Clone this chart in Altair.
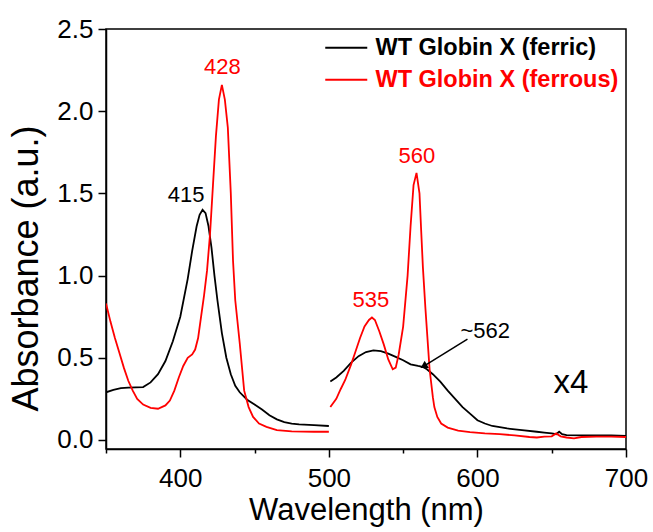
import altair as alt
import pandas as pd

FERRIC = "WT Globin X (ferric)"
FERROUS = "WT Globin X (ferrous)"

# Ferric (black), Soret region 350-500 nm
ferric_soret_nm = [350, 355, 360, 365, 370, 375, 380, 385, 390, 395, 400, 405, 408, 411, 413, 415, 417, 419, 421, 423, 425, 428, 431, 434, 437, 440, 445, 450, 455, 460, 465, 470, 475, 480, 490, 500]
ferric_soret_abs = [0.29, 0.305, 0.315, 0.318, 0.32, 0.322, 0.35, 0.40, 0.48, 0.60, 0.75, 0.98, 1.15, 1.30, 1.37, 1.40, 1.38, 1.30, 1.17, 1.00, 0.85, 0.65, 0.50, 0.40, 0.33, 0.29, 0.245, 0.215, 0.185, 0.15, 0.125, 0.108, 0.10, 0.095, 0.09, 0.085]

# Ferric (black), Q-band region 500-700 nm (x4)
ferric_q_nm = [501, 505, 510, 515, 520, 525, 530, 535, 540, 545, 550, 555, 560, 563, 566, 570, 575, 580, 585, 590, 595, 600, 605, 610, 620, 630, 640, 645, 650, 653, 655, 657, 660, 670, 680, 690, 700]
ferric_q_abs = [0.355, 0.38, 0.42, 0.47, 0.51, 0.535, 0.545, 0.54, 0.525, 0.505, 0.485, 0.46, 0.45, 0.445, 0.43, 0.40, 0.355, 0.30, 0.25, 0.20, 0.16, 0.12, 0.10, 0.085, 0.07, 0.06, 0.05, 0.045, 0.04, 0.035, 0.05, 0.035, 0.03, 0.028, 0.027, 0.028, 0.025]

# Ferrous (red), Soret region
ferrous_soret_nm = [350, 353, 356, 359, 362, 365, 368, 371, 375, 380, 385, 390, 393, 396, 399, 402, 405, 408, 410, 412, 414, 416, 418, 420, 422, 424, 426, 428, 430, 432, 434, 435.5, 437, 440, 443, 446, 449, 453, 458, 465, 475, 490, 500]
ferrous_soret_abs = [0.83, 0.72, 0.62, 0.53, 0.44, 0.36, 0.30, 0.25, 0.215, 0.195, 0.19, 0.21, 0.24, 0.30, 0.38, 0.45, 0.50, 0.52, 0.55, 0.62, 0.75, 0.88, 1.03, 1.25, 1.55, 1.85, 2.07, 2.16, 2.07, 1.90, 1.50, 1.09, 0.85, 0.59, 0.30, 0.20, 0.14, 0.10, 0.08, 0.06, 0.052, 0.05, 0.05]

# Ferrous (red), Q-band region
ferrous_q_nm = [501, 505, 508, 511, 515, 518, 521, 524, 527, 529, 531, 534, 537, 540, 543, 545, 547, 550, 553, 555, 557, 559, 561, 562, 563.3, 565, 567.8, 570, 571, 573, 575.6, 580, 587, 595, 605, 615, 625, 635, 640, 645, 650, 653, 656, 660, 665, 670, 680, 690, 700]
ferrous_q_abs = [0.20, 0.25, 0.31, 0.365, 0.46, 0.54, 0.62, 0.69, 0.73, 0.745, 0.73, 0.66, 0.58, 0.49, 0.43, 0.44, 0.52, 0.69, 1.00, 1.30, 1.55, 1.625, 1.50, 1.30, 1.05, 0.80, 0.43, 0.26, 0.20, 0.14, 0.10, 0.075, 0.057, 0.048, 0.04, 0.035, 0.028, 0.018, 0.015, 0.02, 0.022, 0.04, 0.022, 0.015, 0.01, 0.018, 0.02, 0.02, 0.018]

# Peak annotations
ann_text = ["415", "428", "535", "560", "~562", "x4"]
ann_nm = [404, 428.3, 528.3, 559.3, 605.3, 663]
ann_abs = [1.49, 2.27, 0.85, 1.727, 0.663, 0.347]
ann_color = ["#000000", "#ff0000", "#ff0000", "#ff0000", "#000000", "#000000"]
ann_size = [22, 22, 22, 22, 22, 33]

# Arrow for ~562 shoulder
arrow_nm = [593.3]
arrow_abs = [0.614]
arrow_nm2 = [564.5]
arrow_abs2 = [0.452]

rows = []
for nm, a in zip(ferric_soret_nm, ferric_soret_abs):
    rows.append({"nm": nm, "abs": a, "series": FERRIC, "seg": "ferric_soret"})
for nm, a in zip(ferric_q_nm, ferric_q_abs):
    rows.append({"nm": nm, "abs": a, "series": FERRIC, "seg": "ferric_q"})
for nm, a in zip(ferrous_soret_nm, ferrous_soret_abs):
    rows.append({"nm": nm, "abs": a, "series": FERROUS, "seg": "ferrous_soret"})
for nm, a in zip(ferrous_q_nm, ferrous_q_abs):
    rows.append({"nm": nm, "abs": a, "series": FERROUS, "seg": "ferrous_q"})
df = pd.DataFrame(rows)

ann = pd.DataFrame({"text": ann_text, "nm": ann_nm, "abs": ann_abs, "color": ann_color, "size": ann_size})
arr = pd.DataFrame({"nm": arrow_nm, "abs": arrow_abs, "nm2": arrow_nm2, "abs2": arrow_abs2})

FONT = "Liberation Sans"

xscale = alt.Scale(domain=[350, 700], nice=False, zero=False)
yscale = alt.Scale(domain=[-0.055, 2.5], nice=False, zero=False)

x_axis = alt.Axis(
    title="Wavelength (nm)",
    values=[350, 400, 450, 500, 550, 600, 650, 700],
    labelExpr="datum.value % 100 === 0 ? datum.value : ''",
    tickSize={"expr": "datum.value % 100 === 0 ? 8 : 4"},
    grid=False,
    labelFontSize=26, titleFontSize=31, labelFont=FONT, titleFont=FONT,
    labelColor="#000000", titleColor="#000000", domainColor="#000000", tickColor="#000000",
    titleFontWeight="normal", labelPadding=8, titlePadding=4,
    domainWidth=1.5, tickWidth=1.5, labelFlush=False, labelOverlap=False,
)
y_axis = alt.Axis(
    title="Absorbance (a.u.)",
    values=[0, 0.5, 1.0, 1.5, 2.0, 2.5],
    format=".1f",
    tickSize=8,
    grid=False,
    labelFontSize=26, titleFontSize=36, labelFont=FONT, titleFont=FONT,
    labelColor="#000000", titleColor="#000000", domainColor="#000000", tickColor="#000000",
    titleFontWeight="normal", labelPadding=5, titlePadding=8,
    titleX=-61, titleY=239,
    domainWidth=1.5, tickWidth=1.5, labelFlush=False, labelOverlap=False,
)

lines = alt.Chart(df).mark_line(strokeWidth=1.8, clip=True).encode(
    x=alt.X("nm:Q", scale=xscale, axis=x_axis),
    y=alt.Y("abs:Q", scale=yscale, axis=y_axis),
    color=alt.Color(
        "series:N",
        scale=alt.Scale(domain=[FERRIC, FERROUS], range=["#000000", "#ff0000"]),
        legend=alt.Legend(
            title=None,
            orient="none",
            legendX=228.5,
            legendY=7,
            symbolType="M-2,0H2",
            symbolSize=441,
            symbolStrokeWidth=2,
            symbolFillColor="transparent",
            labelFontSize=23.5,
            labelFont=FONT,
            labelFontWeight="bold",
            labelOffset=17.5,
            labelLimit=400,
            rowPadding=7,
            padding=0,
            labelColor={"expr": "datum.label === 'WT Globin X (ferrous)' ? '#ff0000' : '#000000'"},
        ),
    ),
    detail="seg:N",
    order="nm:Q",
)

texts = alt.Chart(ann).mark_text(font=FONT, baseline="middle", align="center").encode(
    x="nm:Q",
    y="abs:Q",
    text="text:N",
    color=alt.Color("color:N", scale=None),
    size=alt.Size("size:Q", scale=None),
)

arrow_line = alt.Chart(arr).mark_rule(color="#000000", strokeWidth=1.5).encode(
    x="nm:Q", y="abs:Q", x2="nm2:Q", y2="abs2:Q"
)
arrow_head = alt.Chart(arr).mark_point(shape="triangle", filled=True, color="#000000", size=70, angle=240, opacity=1).encode(
    x="nm2:Q", y="abs2:Q"
)

chart = alt.layer(lines, texts, arrow_line, arrow_head).properties(
    width=520,
    height=420,
    autosize=alt.AutoSizeParams(type="none"),
    padding={"left": 106, "top": 29, "right": 27, "bottom": 83},
    background="#ffffff",
).configure_view(stroke="#000000", strokeWidth=1.5)

chart.save("out.html", embed_options={"renderer": "svg", "actions": False})
